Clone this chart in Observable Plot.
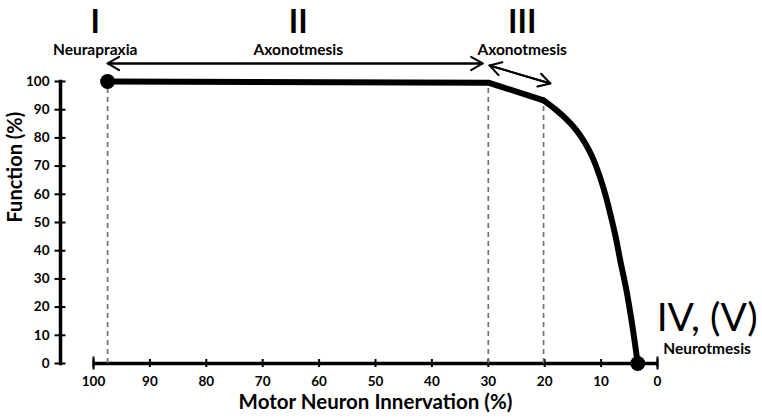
<!DOCTYPE html>
<html><head><meta charset="utf-8">
<script src="https://cdn.jsdelivr.net/npm/d3@7"></script>
<script src="https://cdn.jsdelivr.net/npm/@observablehq/plot@0.6"></script>
<style>body{margin:0;background:#fff;}</style>
</head><body><div id="chart"></div>
<script>
// Curve: function (%) vs motor neuron innervation (%)
const innervation = [97.5, 30, 20.2, 18.1, 16.3, 14.5, 12.9, 11.5, 10.3, 9.2, 8.3, 7.4, 6.6, 5.5, 4.6, 3.5];
const functionPct = [100, 99.6, 93.3, 90.1, 86.9, 83.0, 78.4, 73.0, 66.7, 59.6, 52.5, 44.7, 36.5, 25.9, 15.2, 0];
// straight part ends at this point index; smooth drop starts there
const bendIndex = 2;

// Axes
const xTicks = [100, 90, 80, 70, 60, 50, 40, 30, 20, 10, 0];
const yTicks = [0, 10, 20, 30, 40, 50, 60, 70, 80, 90, 100];
const xTitle = "Motor Neuron Innervation (%)";
const yTitle = "Function (%)";

// Stage boundaries (dashed guides)
const boundaryX = [97.5, 30, 20.2];
const boundaryTop = [100, 99.6, 93.3];

// Stage labels
const stageNumerals = ["I", "II", "III"];
const stageNames = ["Neurapraxia", "Axonotmesis", "Axonotmesis"];
const stageX = [99.7, 63.7, 24];
const numeralY = [121.0, 121.0, 121.0];
const nameY = [111.2, 111.2, 111.2];
const lastNumeral = ["IV, (V)"];
const lastName = ["Neurotmesis"];
const lastX = [-8.8];
const lastNumeralY = [16];
const lastNameY = [5];

// Range arrows
const arrowStart = [[97.5, 106.4], [29.8, 105.7]];
const arrowEnd = [[31.0, 106.4], [19.0, 99.3]];

// Endpoints
const endX = [97.5, 3.5];
const endY = [100, 0];

const curve = innervation.map((x, i) => ({x, y: functionPct[i]}));
const straightPart = curve.slice(0, bendIndex + 1);
const smoothPart = curve.slice(bendIndex);
const guides = boundaryX.map((x, i) => ({x, top: boundaryTop[i]}));
const stages = stageNumerals.map((n, i) => ({n, name: stageNames[i], x: stageX[i], ny: numeralY[i], my: nameY[i]}));
const arrows = arrowStart.map((s, i) => ({x1: s[0], y1: s[1], x2: arrowEnd[i][0], y2: arrowEnd[i][1]}));
const ends = endX.map((x, i) => ({x, y: endY[i]}));

const chart = Plot.plot({
  width: 762, height: 420,
  marginLeft: 60, marginRight: 105, marginTop: 81, marginBottom: 57,
  x: {domain: [xTicks[0], xTicks[xTicks.length - 1]], range: [93, 657]},
  y: {domain: [yTicks[0], yTicks[yTicks.length - 1]]},
  style: {fontFamily: "Lato, 'Open Sans', sans-serif", fontWeight: "bold", color: "#000", background: "#fff", overflow: "visible"},
  marks: [
    Plot.frame({anchor: "left", strokeWidth: 3.5, stroke: "#000"}),
    Plot.axisY({ticks: yTicks, tickSize: 11, dx: 5.5, tickPadding: 5.5, fontSize: 13.5, strokeWidth: 2, label: null}),
    Plot.ruleY([0], {x1: xTicks[0], x2: xTicks[xTicks.length - 1], strokeWidth: 3.5}),
    Plot.axisX({ticks: xTicks, tickSize: 8, dy: -4, tickPadding: 9, fontSize: 13.5, strokeWidth: 2, label: null}),
    Plot.axisX({ticks: [xTicks[0], xTicks[xTicks.length - 1]], tickSize: 13, dy: -6.5, tickFormat: () => "", strokeWidth: 2, label: null}),
    Plot.text([xTitle], {x: (xTicks[0] + xTicks[xTicks.length - 1]) / 2, frameAnchor: "bottom", dy: 45, fontSize: 20.5, fontWeight: "bold"}),
    Plot.text([yTitle], {y: (yTicks[0] + yTicks[yTicks.length - 1]) / 2, frameAnchor: "left", dx: -45, rotate: -90, fontSize: 20, fontWeight: "bold"}),
    Plot.ruleX(guides, {x: "x", y1: 0, y2: "top", stroke: "#707070", strokeWidth: 1.7, strokeDasharray: "5,4"}),
    Plot.line(straightPart, {x: "x", y: "y", curve: "linear", stroke: "#000", strokeWidth: 6, strokeLinejoin: "round", strokeLinecap: "round"}),
    Plot.line(smoothPart, {x: "x", y: "y", curve: "monotone-x", stroke: "#000", strokeWidth: 6, strokeLinejoin: "round", strokeLinecap: "round"}),
    Plot.dot(ends, {x: "x", y: "y", r: 7.5, fill: "#000"}),
    Plot.arrow(arrows, {x1: "x1", y1: "y1", x2: "x2", y2: "y2", stroke: "#000", strokeWidth: 2, headLength: 10}),
    Plot.arrow(arrows, {x1: "x2", y1: "y2", x2: "x1", y2: "y1", stroke: "#000", strokeWidth: 2, headLength: 10}),
    Plot.text(stages, {x: "x", y: "ny", text: "n", fontSize: 32, fontWeight: "bold"}),
    Plot.text(stages, {x: "x", y: "my", text: "name", fontSize: 15.5, fontWeight: "bold"}),
    Plot.text(lastNumeral, {x: lastX[0], y: lastNumeralY[0], text: d => d, fontSize: 39, fontWeight: "normal"}),
    Plot.text(lastName, {x: lastX[0], y: lastNameY[0], text: d => d, fontSize: 15.5, fontWeight: "bold"})
  ]
});
document.getElementById("chart").appendChild(chart);
</script>
</body></html>
